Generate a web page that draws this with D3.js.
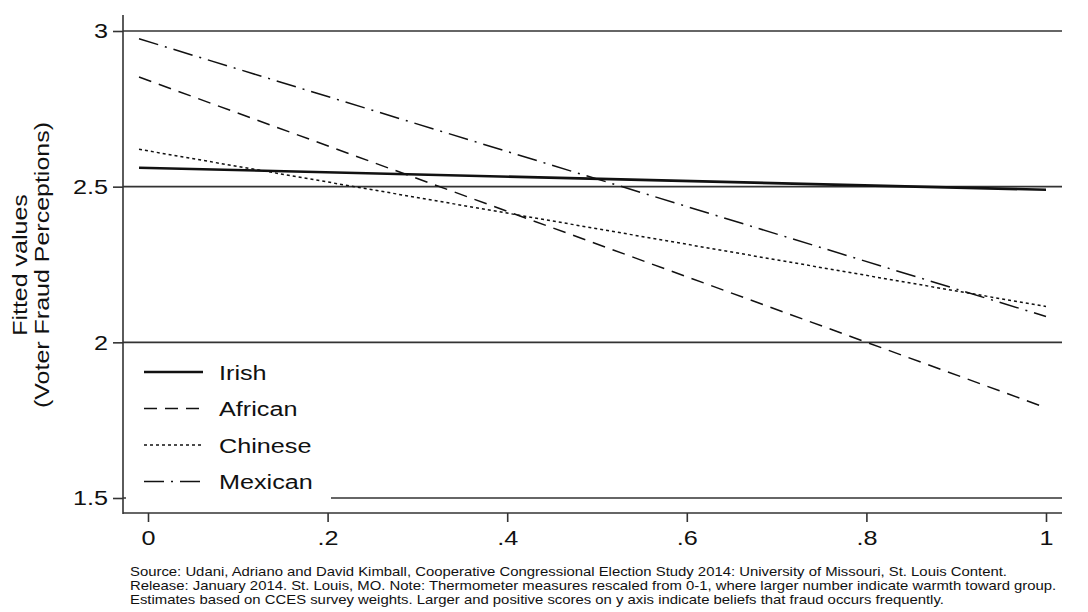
<!DOCTYPE html>
<html><head><meta charset="utf-8">
<script src="https://cdn.jsdelivr.net/npm/d3@7"></script>
<style>body{margin:0;background:#fff}svg{display:block;font-family:"Liberation Sans",Arial,sans-serif}</style>
</head><body><svg id="c" width="1088" height="612"></svg>
<script>
const xRange = [-0.01, 1];
const seriesNames = ["Irish", "African", "Chinese", "Mexican"];
const irish = [2.561, 2.490];
const african = [2.852, 1.790];
const chinese = [2.620, 2.115];
const mexican = [2.975, 2.083];
const yTicks = [1.5, 2, 2.5, 3];
const yTickLabels = ["1.5", "2", "2.5", "3"];
const xTicks = [0, 0.2, 0.4, 0.6, 0.8, 1];
const xTickLabels = ["0", ".2", ".4", ".6", ".8", "1"];
const yTitle = ["Fitted values", "(Voter Fraud Perceptions)"];
const note = [
 "Source: Udani, Adriano and David Kimball, Cooperative Congressional Election Study 2014: University of Missouri, St. Louis Content.",
 "Release: January 2014. St. Louis, MO. Note: Thermometer measures rescaled from 0-1, where larger number indicate warmth toward group.",
 "Estimates based on CCES survey weights. Larger and positive scores on y axis indicate beliefs that fraud occurs frequently."
];
const values = [irish, african, chinese, mexican];
const styles = [
 {dash:null, w:2.6},
 {dash:"13,8", w:1.5},
 {dash:"3,3", w:1.5},
 {dash:"20,7,2,7", w:1.5}
];
const SX = 1.2;

const svg = d3.select("#c");
const x = d3.scaleLinear().domain([0,1]).range([148,1046]);
const y = d3.scaleLinear().domain([1.5,3]).range([498,31]);
const axisX = 123, axisY = 513, gridEnd = 1062;

// gridlines
svg.append("g").selectAll("line").data(yTicks).join("line")
  .attr("x1", axisX).attr("x2", gridEnd)
  .attr("y1", d=>y(d)).attr("y2", d=>y(d))
  .attr("stroke","#333").attr("stroke-width",1.6);

// series
const line = d3.line().x(d=>x(d[0])).y(d=>y(d[1]));
values.forEach((v,i)=>{
  const pts = v.map((val,j)=>[xRange[j], val]);
  svg.append("path").attr("d", line(pts)).attr("fill","none")
    .attr("stroke","#111").attr("stroke-width",styles[i].w)
    .attr("stroke-dasharray",styles[i].dash);
});

// legend
const lg = svg.append("g");
lg.append("rect").attr("x",126).attr("y",347).attr("width",205).attr("height",160).attr("fill","#fff");
seriesNames.forEach((n,i)=>{
  const yy = 372 + i*36.5;
  lg.append("line").attr("x1",144).attr("x2",203).attr("y1",yy).attr("y2",yy)
    .attr("stroke","#111").attr("stroke-width",styles[i].w).attr("stroke-dasharray",styles[i].dash);
  lg.append("text").attr("transform",`translate(219,${yy+7.5}) scale(${SX},1)`)
    .attr("font-size",21).attr("fill","#111").text(n);
});

// y axis
const ya = svg.append("g").attr("transform",`translate(${axisX},0)`)
  .call(d3.axisLeft(y).tickValues(yTicks).tickFormat((d,i)=>yTickLabels[i]).tickSize(10).tickPadding(2.5));
ya.select(".domain").remove();
ya.selectAll(".tick line").attr("stroke","#333").attr("stroke-width",1.6);
ya.selectAll("text").attr("font-size",21).attr("fill","#111")
  .attr("font-family","Liberation Sans, Arial, sans-serif").attr("transform",`scale(${SX},1)`);
svg.append("line").attr("x1",axisX).attr("x2",axisX).attr("y1",15).attr("y2",axisY+1)
  .attr("stroke","#333").attr("stroke-width",1.6);

// x axis
const xa = svg.append("g").attr("transform",`translate(0,${axisY})`)
  .call(d3.axisBottom(x).tickValues(xTicks).tickFormat((d,i)=>xTickLabels[i]).tickSize(9).tickPadding(8));
xa.select(".domain").remove();
xa.selectAll(".tick line").attr("stroke","#333").attr("stroke-width",1.6);
xa.selectAll("text").attr("font-size",21).attr("fill","#111")
  .attr("font-family","Liberation Sans, Arial, sans-serif").attr("transform",`scale(${SX},1)`);
svg.append("line").attr("x1",axisX).attr("x2",gridEnd).attr("y1",axisY).attr("y2",axisY)
  .attr("stroke","#333").attr("stroke-width",1.6);

// y title
yTitle.forEach((t,i)=>{
  svg.append("text").attr("transform",`translate(${27+i*22},265) rotate(-90) scale(1,0.8)`)
    .attr("text-anchor","middle").attr("font-size",25).attr("fill","#111").text(t);
});

// note
note.forEach((t,i)=>{
  svg.append("text").attr("transform",`translate(130,${576+i*14}) scale(${SX},1)`)
    .attr("font-size",12.4).attr("fill","#111").text(t);
});
</script></body></html>
